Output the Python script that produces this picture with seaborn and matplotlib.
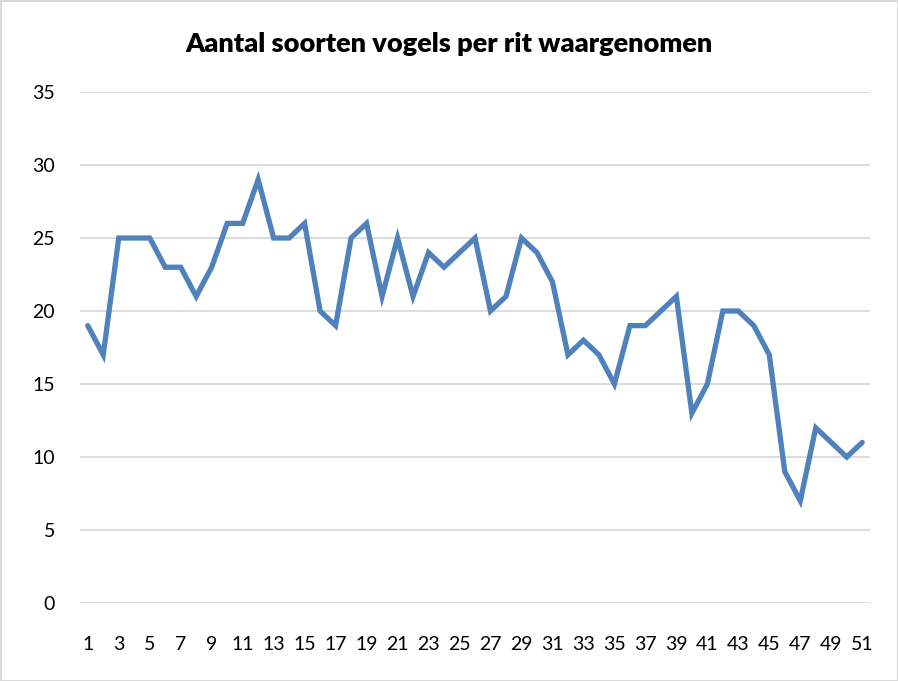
import numpy as np
import pandas as pd
import seaborn as sns
import matplotlib.pyplot as plt

# Data
rit = list(range(1, 52))
soorten = [19, 17, 25, 25, 25, 23, 23, 21, 23, 26,
           26, 29, 25, 25, 26, 20, 19, 25, 26, 21,
           25, 21, 24, 23, 24, 25, 20, 21, 25, 24,
           22, 17, 18, 17, 15, 19, 19, 20, 21, 13,
           15, 20, 20, 19, 17, 9, 7, 12, 11, 10, 11]
y_ticks = [0, 5, 10, 15, 20, 25, 30, 35]
title = 'Aantal soorten vogels per rit waargenomen'

df = pd.DataFrame({'rit': rit, 'soorten': soorten})

sns.set_style('white')
plt.rcParams['font.family'] = ['Lato', 'DejaVu Sans']

fig = plt.figure(figsize=(8.98, 6.81), dpi=100)
fig.patch.set_edgecolor('#d9d9d9')
fig.patch.set_linewidth(2)
ax = fig.add_axes([0.0891, 0.1145, 0.8797, 0.7504])

sns.lineplot(data=df, x='rit', y='soorten', ax=ax, color='#4f81bd',
             linewidth=3.8, solid_joinstyle='miter')

ax.set_xlim(0.5, 51.5)
ax.set_ylim(0, 35)
ax.set_yticks(y_ticks)
ax.set_xticks(rit[::2])
ax.set_xticklabels([str(r) for r in rit[::2]])
ax.yaxis.grid(True, color='#d9d9d9', linewidth=1.3)
ax.xaxis.grid(False)
for s in ax.spines.values():
    s.set_visible(False)
ax.tick_params(axis='y', length=0, pad=18, labelsize=14, labelcolor='#000000')
ax.tick_params(axis='x', length=0, pad=24, labelsize=14, labelcolor='#000000')
ax.set_xlabel('')
ax.set_ylabel('')
fig.suptitle(title, x=0.5, y=0.9236, va='baseline', fontsize=19.5,
             fontweight='heavy', color='#000000')

fig.savefig('out.png', dpi=100, edgecolor=fig.get_edgecolor())
